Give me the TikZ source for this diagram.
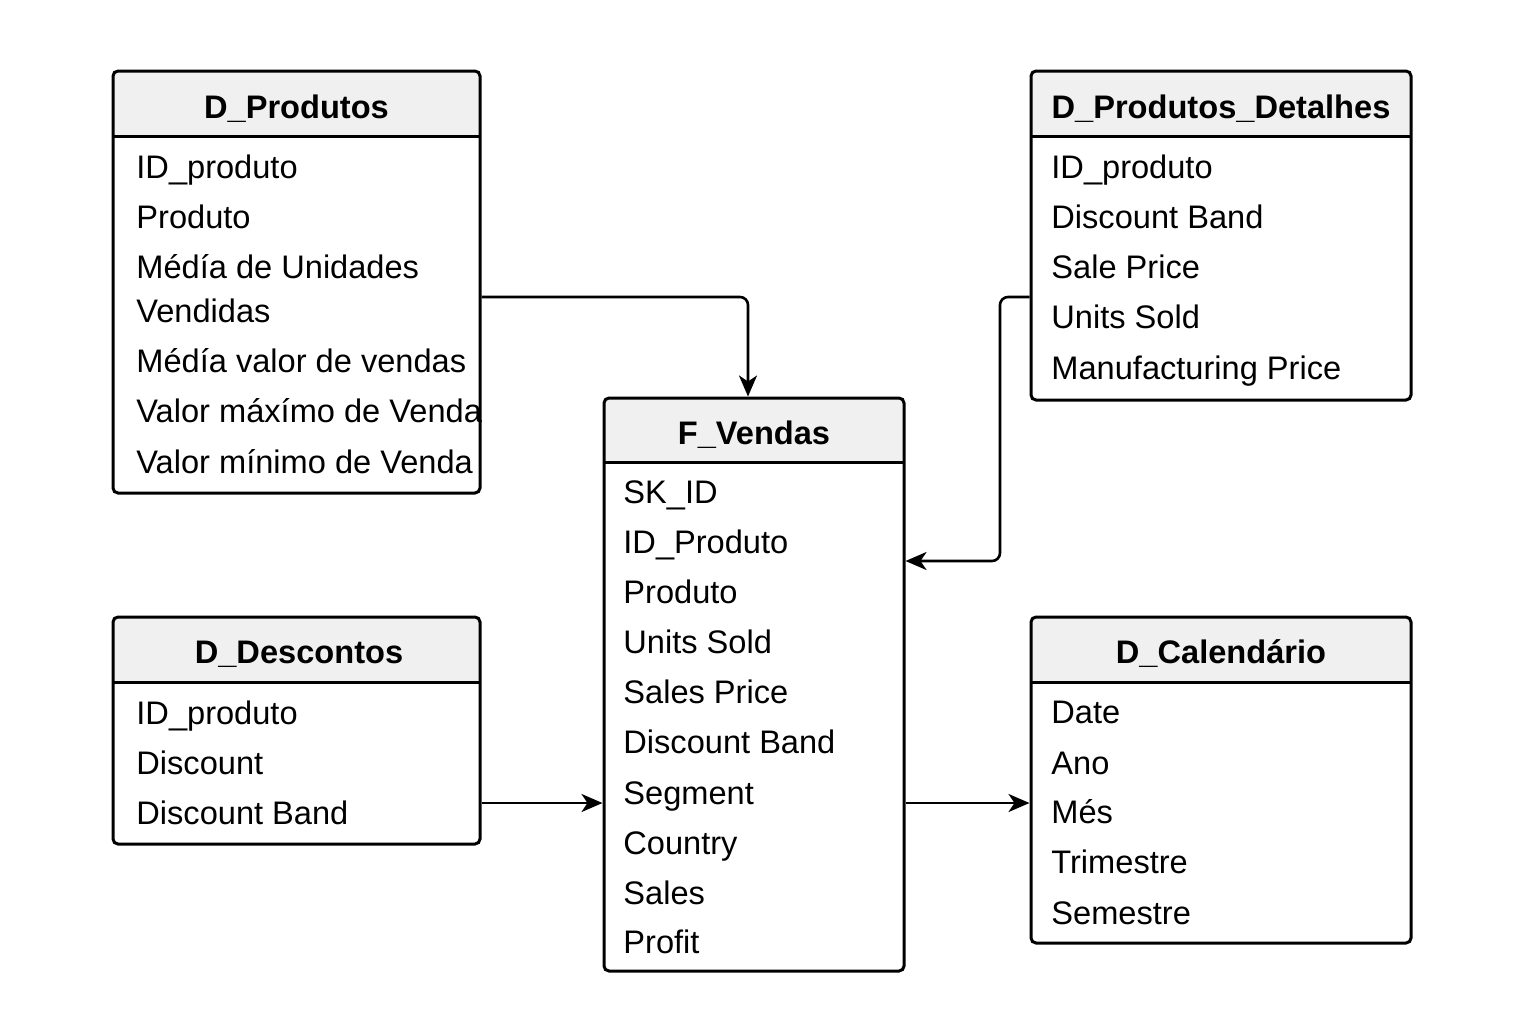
\documentclass[tikz,border=0pt]{standalone}
\usepackage{fontspec}
\setmainfont{Liberation Sans}
\usetikzlibrary{fit,arrows.meta,calc}
\begin{document}
\begin{tikzpicture}[x=0.5pt,y=-0.5pt,
  tbl/.style={draw, line width=1.5pt, rounded corners=2.5pt, inner sep=0pt},
  hdr/.style={fill=black!6, rounded corners=2.5pt},
  sepline/.style={line width=1.5pt},
  ttl/.style={font=\fontsize{16.3pt}{19pt}\selectfont\bfseries, anchor=base, inner sep=0pt},
  fld/.style={font=\fontsize{16.3pt}{19pt}\selectfont, anchor=base west, inner sep=0pt},
  conn/.style={line width=1.3pt, rounded corners=4pt, -{Stealth[length=10.5pt,width=9pt,inset=3pt]}}]
\useasboundingbox (0,0) rectangle (1536,1024);

% ---------- D_Produtos ----------
\fill[hdr] (113,71) rectangle (480,136);
\node[tbl, fit={(113,71)(480,493)}] (prod) {};
\draw[sepline] (113,136) -- (480,136);
\node[ttl] (prodT) at (296.5,118) {D\_Produtos};
\node[fld] (p1) at (136,178) {ID\_produto};
\node[fld] (p2) at (136,228) {Produto};
\node[fld] (p3) at (136,278) {Médía de Unidades};
\node[fld] (p4) at (136,322) {Vendidas};
\node[fld] (p5) at (136,372) {Médía valor de vendas};
\node[fld] (p6) at (136,422) {Valor máxímo de Venda};
\node[fld] (p7) at (136,473) {Valor mínimo de Venda};

% ---------- D_Produtos_Detalhes ----------
\fill[hdr] (1031,71) rectangle (1411,136);
\node[tbl, fit={(1031,71)(1411,400)}] (det) {};
\draw[sepline] (1031,136) -- (1411,136);
\node[ttl] (detT) at (1221,118) {D\_Produtos\_Detalhes};
\node[fld] (d1) at (1051,178) {ID\_produto};
\node[fld] (d2) at (1051,228) {Discount Band};
\node[fld] (d3) at (1051,278) {Sale Price};
\node[fld] (d4) at (1051,328) {Units Sold};
\node[fld] (d5) at (1051,379) {Manufacturing Price};

% ---------- F_Vendas ----------
\fill[hdr] (604,398) rectangle (904,462);
\node[tbl, fit={(604,398)(904,971)}] (fv) {};
\draw[sepline] (604,462) -- (904,462);
\node[ttl] (fvT) at (754,444) {F\_Vendas};
\node[fld] (f1) at (623,503) {SK\_ID};
\node[fld] (f2) at (623,553) {ID\_Produto};
\node[fld] (f3) at (623,603) {Produto};
\node[fld] (f4) at (623,653) {Units Sold};
\node[fld] (f5) at (623,703) {Sales Price};
\node[fld] (f6) at (623,753) {Discount Band};
\node[fld] (f7) at (623,804) {Segment};
\node[fld] (f8) at (623,854) {Country};
\node[fld] (f9) at (623,904) {Sales};
\node[fld] (f10) at (623,953) {Profit};

% ---------- D_Descontos ----------
\fill[hdr] (113,617) rectangle (480,682);
\node[tbl, fit={(113,617)(480,844)}] (desc) {};
\draw[sepline] (113,682) -- (480,682);
\node[ttl] (descT) at (299,663) {D\_Descontos};
\node[fld] (e1) at (136,724) {ID\_produto};
\node[fld] (e2) at (136,774) {Discount};
\node[fld] (e3) at (136,824) {Discount Band};

% ---------- D_Calendario ----------
\fill[hdr] (1031,617) rectangle (1411,682);
\node[tbl, fit={(1031,617)(1411,943)}] (cal) {};
\draw[sepline] (1031,682) -- (1411,682);
\node[ttl] (calT) at (1221,663) {D\_Calendário};
\node[fld] (c1) at (1051,723) {Date};
\node[fld] (c2) at (1051,774) {Ano};
\node[fld] (c3) at (1051,823) {Més};
\node[fld] (c4) at (1051,873) {Trimestre};
\node[fld] (c5) at (1051,924) {Semestre};

% ---------- connectors ----------
\coordinate (bend2) at (1000,297);
\draw[conn] ($(prod.east)+(0,15)$) -| ($(fv.north)+(-6,0)$);
\draw[conn] ($(det.west)+(0,61.5)$) -- (bend2) |- ($(fv.east)+(0,-123.5)$);
\draw[conn] ($(desc.east)+(0,72.5)$) -- ($(fv.west)+(0,118.5)$);
\draw[conn] ($(fv.east)+(0,118.5)$) -- ($(cal.west)+(0,23)$);
\end{tikzpicture}
\end{document}
